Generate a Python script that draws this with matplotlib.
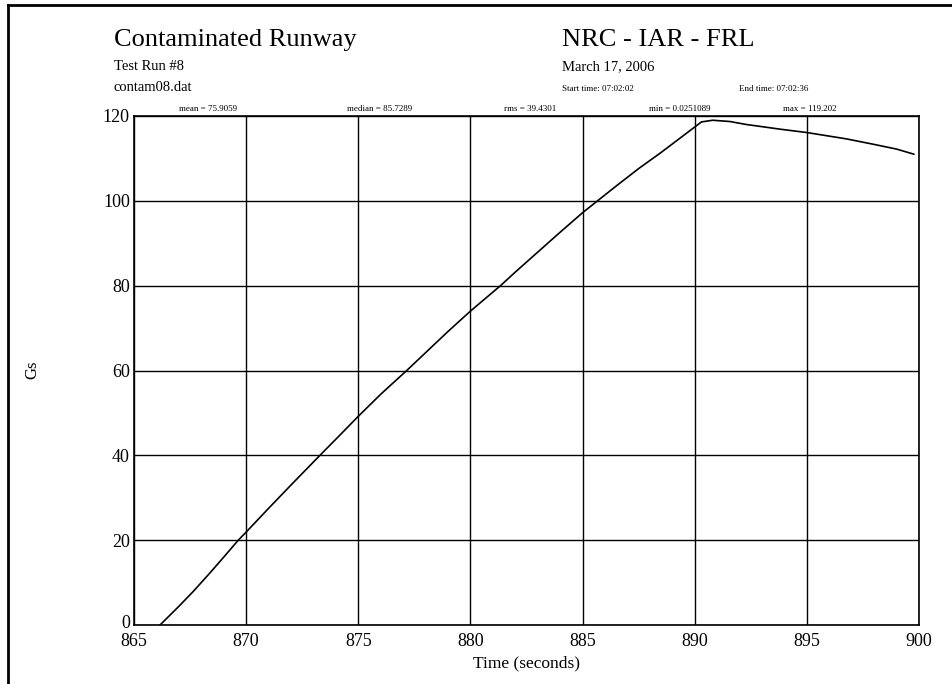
import matplotlib
matplotlib.use("Agg")
import matplotlib.pyplot as plt
import matplotlib.transforms as mtransforms
from matplotlib.lines import Line2D

plt.rcParams['font.family'] = ['Liberation Serif', 'DejaVu Serif']

# values
time_s = [866.16, 866.6, 867.0, 867.64, 868.39, 869.0, 869.65, 870.0, 871.0, 872.0,
          873.29, 874.0, 875.0, 876.0, 877.16, 878.0, 879.0, 880.0, 881.34, 882.0,
          883.0, 884.0, 885.0, 886.5, 887.5, 888.5, 889.3, 890.0, 890.3, 890.8,
          891.57, 892.3, 893.8, 895.0, 896.77, 898.0, 899.0, 899.77]
gs = [0.0, 2.3, 4.4, 7.9, 12.3, 16.0, 20.0, 21.9, 27.5, 33.0,
      40.0, 43.8, 49.2, 54.4, 60.0, 64.2, 69.2, 74.0, 80.0, 83.2,
      87.9, 92.6, 97.2, 103.5, 107.6, 111.4, 114.6, 117.4, 118.6, 119.0,
      118.7, 118.0, 116.9, 116.1, 114.6, 113.3, 112.2, 111.0]

mean_v, median_v, rms_v = 75.9059, 85.7289, 39.4301
min_v, max_v = 0.0251089, 119.202
x_ticks = [865, 870, 875, 880, 885, 890, 895, 900]
y_ticks = [0, 20, 40, 60, 80, 100, 120]

W, H = 952, 684
fig = plt.figure(figsize=(W / 100, H / 100), dpi=100)
ax = fig.add_axes([134 / W, 1 - 625 / H, (919 - 134) / W, (625 - 116) / H])

ax.plot(time_s, gs, color='black', lw=1.2)
ax.set_xlim(865, 900)
ax.set_ylim(0, 120)
ax.set_xticks(x_ticks)
ax.set_yticks(y_ticks)
ax.grid(True, color='black', lw=1.0)
ax.tick_params(length=0, labelsize=13)
ax.tick_params(axis='x', pad=6)
ax.tick_params(axis='y', pad=3)
for s in ax.spines.values():
    s.set_linewidth(1.2)
ax.set_xlabel('Time (seconds)', fontsize=12.5, labelpad=4)

# lift the "0" label a touch so it sits above "865"
lbl0 = ax.get_yticklabels()[0]
lbl0.set_transform(lbl0.get_transform() +
                   mtransforms.ScaledTranslation(0, 3 / 100, fig.dpi_scale_trans))

def px(x, y, s, size, ha='left', **kw):
    fig.text(x / W, 1 - y / H, s, fontsize=size, ha=ha, va='baseline', **kw)

# header block
px(114, 46, 'Contaminated Runway', 19)
px(114, 70, 'Test Run #8', 10.5)
px(114, 91, 'contam08.dat', 10.5)
px(562, 46, 'NRC - IAR - FRL', 19)
px(562, 70, 'March 17, 2006', 10.5)
px(562, 91, 'Start time: 07:02:02', 6.5)
px(739, 91, 'End time: 07:02:36', 6.5)

px(208, 111, f'mean = {mean_v}', 6.5, ha='center')
px(380, 111, f'median = {median_v}', 6.5, ha='center')
px(530, 111, f'rms = {rms_v}', 6.5, ha='center')
px(680, 111, f'min = {min_v}', 6.5, ha='center')
px(810, 111, f'max = {max_v}', 6.5, ha='center')

fig.text(32 / W, 1 - 370 / H, 'Gs', fontsize=12, rotation=90, ha='center', va='center')

# page frame
fig.add_artist(Line2D([8 / W, 1], [1 - 5 / H, 1 - 5 / H], color='black', lw=2))
fig.add_artist(Line2D([8 / W, 8 / W], [0, 1 - 5 / H], color='black', lw=2))

fig.savefig('out.png', dpi=100)
